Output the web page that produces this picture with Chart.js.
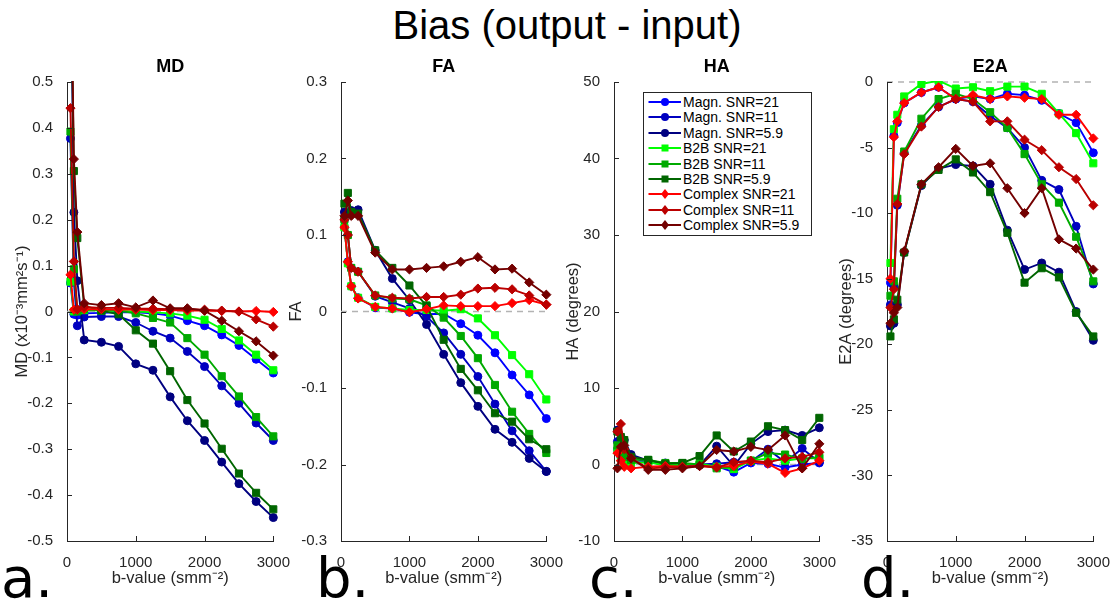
<!DOCTYPE html>
<html>
<head>
<meta charset="utf-8">
<script src="https://cdn.jsdelivr.net/npm/chart.js@4.4.1/dist/chart.umd.min.js"></script>
<style>
html,body{margin:0;padding:0;background:#fff;}
body{width:1120px;height:601px;position:relative;overflow:hidden;font-family:"Liberation Sans",Arial,sans-serif;color:#000;}
canvas{position:absolute;top:50px;}
#mainTitle{position:absolute;left:14px;top:3px;width:1106px;text-align:center;font-size:40px;line-height:44px;}
.plabel{position:absolute;top:550px;font-family:"DejaVu Sans",sans-serif;font-size:56px;line-height:56px;}
#legend{position:absolute;left:643px;top:92px;width:169px;height:144px;border:1px solid #262626;background:#fff;box-sizing:border-box;}
.lrow{position:absolute;left:0;height:16px;line-height:16px;font-size:14px;white-space:nowrap;}
.lrow svg{position:absolute;left:4px;top:0;}
.lrow span{position:absolute;left:39px;top:0;}
</style>
</head>
<body>
<div id="mainTitle">Bias (output - input)</div>
<canvas id="cMD" width="290" height="551" style="left:5px"></canvas>
<canvas id="cFA" width="289" height="551" style="left:279px"></canvas>
<canvas id="cHA" width="289" height="551" style="left:552px"></canvas>
<canvas id="cE2A" width="290" height="551" style="left:825px"></canvas>
<div class="plabel" style="left:1px">a.</div>
<div class="plabel" style="left:316px">b.</div>
<div class="plabel" style="left:589px">c.</div>
<div class="plabel" style="left:861px">d.</div>
<div id="legend"></div>
<script>
// ---------- data ----------
const bValues = [50,100,150,250,500,750,1000,1250,1500,1750,2000,2250,2500,2750,3000];
const seriesNames = ['Magn. SNR=21','Magn. SNR=11','Magn. SNR=5.9','B2B SNR=21','B2B SNR=11','B2B SNR=5.9','Complex SNR=21','Complex SNR=11','Complex SNR=5.9'];
const seriesColors = ['#0000FF','#0000C0','#000080','#00FF00','#00AA00','#006600','#FF0000','#BB0000','#730000'];
const seriesMarkers = ['circle','circle','circle','rect','rect','rect','rectRot','rectRot','rectRot'];

const xTicks = [0,1000,2000,3000];
const mdTicks = [-0.5,-0.4,-0.3,-0.2,-0.1,0,0.1,0.2,0.3,0.4,0.5];
const faTicks = [-0.3,-0.2,-0.1,0,0.1,0.2,0.3];
const haTicks = [-10,0,10,20,30,40,50];
const e2aTicks = [-35,-30,-25,-20,-15,-10,-5,0];

// MD bias (x10^-3 mm^2/s)
const mdMagn21 = [0.062,-0.006,-0.008,-0.004,-0.003,-0.002,-0.002,-0.004,-0.009,-0.02,-0.031,-0.051,-0.074,-0.104,-0.134];
const mdMagn11 = [0.377,0.065,-0.031,-0.012,-0.011,-0.011,-0.024,-0.043,-0.058,-0.087,-0.12,-0.162,-0.2,-0.243,-0.281];
const mdMagn59 = [0.80,0.216,0.067,-0.062,-0.067,-0.076,-0.114,-0.128,-0.186,-0.238,-0.281,-0.328,-0.375,-0.414,-0.449];
const mdB2B21 = [0.065,0.0,0.002,0.003,0.002,0.001,0.0,-0.002,-0.004,-0.009,-0.018,-0.038,-0.063,-0.094,-0.128];
const mdB2B11 = [0.392,0.092,0.0,0.005,0.003,0.002,-0.004,-0.014,-0.024,-0.058,-0.094,-0.141,-0.185,-0.23,-0.272];
const mdB2B59 = [0.82,0.306,0.16,0.012,0.002,-0.006,-0.041,-0.07,-0.13,-0.193,-0.244,-0.299,-0.353,-0.395,-0.431];
const mdCplx21 = [0.08,0.004,0.004,0.005,0.005,0.004,0.004,0.003,0.003,0.002,0.002,0.001,0.0,0.001,-0.001];
const mdCplx11 = [0.443,0.109,0.005,0.01,0.008,0.008,0.006,0.006,0.005,0.005,0.004,0.002,0.0,-0.017,-0.033];
const mdCplx59 = [0.85,0.332,0.173,0.018,0.014,0.018,0.009,0.024,0.007,0.007,0.002,-0.02,-0.043,-0.065,-0.096];

// FA bias
const faMagn21 = [0.11,0.065,0.033,0.018,0.005,0.004,-0.001,-0.0035,-0.003,-0.016,-0.031,-0.054,-0.083,-0.109,-0.14];
const faMagn11 = [0.12,0.10,0.057,0.052,0.02,0.012,0.004,-0.0065,-0.028,-0.056,-0.085,-0.121,-0.156,-0.182,-0.209];
const faMagn59 = [0.13,0.128,0.132,0.133,0.08,0.043,0.015,-0.017,-0.056,-0.093,-0.124,-0.154,-0.171,-0.192,-0.209];
const faB2B21 = [0.11,0.063,0.033,0.018,0.006,0.004,0.002,0.002,0.001,0.003,-0.009,-0.031,-0.057,-0.082,-0.115];
const faB2B11 = [0.12,0.10,0.057,0.052,0.021,0.017,0.016,0.008,-0.008,-0.032,-0.061,-0.096,-0.131,-0.16,-0.185];
const faB2B59 = [0.141,0.155,0.13,0.128,0.08,0.057,0.034,0.007,-0.037,-0.075,-0.103,-0.133,-0.144,-0.167,-0.18];
const faCplx21 = [0.11,0.065,0.033,0.017,0.006,0.004,-0.001,0.003,0.008,0.007,0.007,0.007,0.011,0.015,0.009];
const faCplx11 = [0.12,0.10,0.057,0.052,0.021,0.018,0.017,0.019,0.019,0.022,0.03,0.031,0.029,0.021,0.009];
const faCplx59 = [0.125,0.145,0.125,0.125,0.077,0.055,0.055,0.057,0.059,0.065,0.071,0.055,0.056,0.038,0.022];

// HA bias (degrees)
const haMagn21 = [2.0,1.0,0.5,0.3,0.3,0.0,0.0,-0.1,-0.2,-1.0,0.2,0.1,-0.4,0.0,0.2];
const haMagn11 = [3.0,2.4,1.4,0.8,0.4,0.2,0.0,0.0,0.1,0.3,0.4,2.0,0.3,2.1,0.3];
const haMagn59 = [4.5,3.4,3.2,1.3,0.5,-0.2,-0.1,-0.1,2.4,-0.2,2.7,4.3,4.5,3.8,4.8];
const haB2B21 = [1.8,0.8,0.3,0.2,0.3,-0.1,0.0,0.1,-0.3,-0.6,0.5,0.8,0.5,0.8,0.8];
const haB2B11 = [2.5,2.0,1.0,0.6,0.6,0.2,0.2,0.0,-0.5,-0.3,0.5,1.5,1.3,0.7,1.0];
const haB2B59 = [4.3,3.6,3.2,1.0,0.6,0.1,0.2,1.1,3.8,1.7,3.0,5.0,4.5,3.2,6.1];
const haCplx21 = [1.5,0.5,-0.3,-0.5,-0.3,-0.2,-0.3,-0.2,-0.3,-0.2,0.4,0.1,-1.1,-0.5,0.5];
const haCplx11 = [4.3,5.3,2.0,0.8,-0.5,-0.4,-0.4,-0.2,-0.4,0.3,0.5,0.3,0.8,1.0,1.6];
const haCplx59 = [-0.5,2.3,2.5,0.8,-0.7,-0.7,-0.5,-0.2,1.9,1.7,2.3,1.9,3.8,-0.5,2.7];

// E2A bias (degrees)
const e2aMagn21 = [-15.3,-4.1,-3.1,-1.6,-0.8,-0.4,-1.3,-1.1,-1.3,-0.9,-1.0,-1.4,-2.4,-3.1,-5.4];
const e2aMagn11 = [-17.0,-15.6,-9.4,-5.4,-3.3,-1.9,-1.3,-1.5,-2.6,-3.5,-5.0,-7.5,-8.2,-11.0,-15.4];
const e2aMagn59 = [-18.6,-18.4,-17.0,-13.0,-7.9,-6.6,-6.3,-6.4,-7.8,-11.3,-14.3,-13.8,-14.5,-17.5,-19.7];
const e2aB2B21 = [-13.8,-3.6,-2.5,-1.1,-0.15,0.1,-0.5,-0.4,-0.7,-0.35,-0.35,-0.9,-2.4,-3.9,-6.2];
const e2aB2B11 = [-16.3,-15.2,-8.9,-5.3,-2.8,-1.3,-0.9,-1.3,-2.3,-3.5,-5.5,-7.8,-9.2,-11.8,-15.2];
const e2aB2B59 = [-19.4,-18.1,-16.6,-13.0,-7.8,-6.7,-5.9,-6.9,-8.4,-11.5,-15.3,-14.2,-14.9,-17.6,-19.4];
const e2aCplx21 = [-15.0,-4.2,-3.0,-1.6,-0.8,-0.4,-1.3,-1.0,-1.3,-1.1,-1.2,-1.3,-2.5,-2.5,-4.3];
const e2aCplx11 = [-17.2,-15.8,-9.3,-5.5,-3.4,-1.9,-1.3,-1.5,-3.0,-3.0,-4.4,-5.2,-6.5,-7.4,-9.4];
const e2aCplx59 = [-18.4,-17.6,-17.2,-12.9,-7.8,-6.5,-5.1,-6.4,-6.2,-8.1,-10.0,-8.1,-12.0,-12.7,-14.3];

// ---------- drawing ----------
const FONT = '"Liberation Sans", Arial, sans-serif';
const INK = '#262626';

const axisDeco = {
  id: 'axisDeco',
  beforeDatasetsDraw(chart) {
    const {ctx, chartArea: a, scales: {y}} = chart;
    const y0 = y.getPixelForValue(0);
    ctx.save();
    ctx.strokeStyle = '#b3b3b3';
    ctx.lineWidth = 1.5;
    ctx.setLineDash([6, 5]);
    ctx.beginPath();
    ctx.moveTo(a.left, y0);
    ctx.lineTo(a.right, y0);
    ctx.stroke();
    ctx.restore();
  },
  afterDraw(chart) {
    const {ctx, chartArea: a, scales: {x, y}} = chart;
    ctx.save();
    ctx.strokeStyle = INK;
    ctx.lineWidth = 1;
    ctx.beginPath();
    y.ticks.forEach(t => {
      const py = Math.round(y.getPixelForValue(t.value)) + 0.5;
      ctx.moveTo(a.left, py); ctx.lineTo(a.left + 5, py);
    });
    x.ticks.forEach(t => {
      const px = Math.round(x.getPixelForValue(t.value)) + 0.5;
      ctx.moveTo(px, a.bottom); ctx.lineTo(px, a.bottom - 5);
    });
    ctx.stroke();
    ctx.restore();
  }
};

function makeDatasets(arrs) {
  return arrs.map((vals, i) => ({
    label: seriesNames[i],
    data: bValues.map((b, k) => ({x: b, y: vals[k]})),
    borderColor: seriesColors[i],
    backgroundColor: seriesColors[i],
    pointBackgroundColor: seriesColors[i],
    pointBorderColor: seriesColors[i],
    pointStyle: seriesMarkers[i],
    pointRadius: seriesMarkers[i] === 'circle' ? 4 : (seriesMarkers[i] === 'rect' ? 5 : 4.6),
    pointBorderWidth: 1,
    borderWidth: 1.9,
    tension: 0,
    order: 9 - i,
    clip: {left: 8, right: 8, top: 1, bottom: 8}
  }));
}

function fmt(v) {
  const r = Math.round(v * 10) / 10;
  return String(r);
}

function makePanel(id, title, yTitle, yTicks, yTitlePad, arrs) {
  const yMin = yTicks[0], yMax = yTicks[yTicks.length - 1];
  return new Chart(document.getElementById(id), {
    type: 'line',
    data: {datasets: makeDatasets(arrs)},
    options: {
      responsive: false,
      animation: false,
      devicePixelRatio: 1,
      layout: {padding: {left: 0, right: 20, top: 0, bottom: 0}},
      plugins: {
        legend: {display: false},
        tooltip: {enabled: false},
        title: {display: true, fullSize: false, text: title, color: '#000',
          font: {family: FONT, size: 18, weight: 'bold'},
          padding: {top: 6, bottom: 4.4}}
      },
      scales: {
        x: {
          type: 'linear', min: 0, max: 3000,
          afterBuildTicks: s => { s.ticks = xTicks.map(v => ({value: v})); },
          afterFit: s => { s.height = 60; },
          ticks: {font: {family: FONT, size: 15}, color: INK, padding: 5, maxRotation: 0, autoSkip: false,
            callback: v => String(v)},
          grid: {display: false},
          border: {display: true, color: INK, width: 1},
          title: {display: true, text: 'b-value (smm⁻²)', color: INK,
            font: {family: FONT, size: 16.5}, padding: {top: 0, bottom: 13.1}}
        },
        y: {
          type: 'linear', min: yMin, max: yMax,
          afterBuildTicks: s => { s.ticks = yTicks.map(v => ({value: v})); },
          afterFit: s => { s.width = 62; },
          ticks: {font: {family: FONT, size: 15}, color: INK, padding: 6, autoSkip: false, callback: v => fmt(v)},
          grid: {display: false},
          border: {display: true, color: INK, width: 1},
          title: {display: true, text: yTitle, color: INK,
            font: {family: FONT, size: 16.5}, padding: {top: yTitlePad, bottom: 0}}
        }
      }
    },
    plugins: [axisDeco]
  });
}

makePanel('cMD', 'MD', 'MD (x10⁻³mm²s⁻¹)', mdTicks, 7.1,
  [mdMagn21, mdMagn11, mdMagn59, mdB2B21, mdB2B11, mdB2B59, mdCplx21, mdCplx11, mdCplx59]);
makePanel('cFA', 'FA', 'FA', faTicks, 7.1,
  [faMagn21, faMagn11, faMagn59, faB2B21, faB2B11, faB2B59, faCplx21, faCplx11, faCplx59]);
makePanel('cHA', 'HA', 'HA (degrees)', haTicks, 11.1,
  [haMagn21, haMagn11, haMagn59, haB2B21, haB2B11, haB2B59, haCplx21, haCplx11, haCplx59]);
makePanel('cE2A', 'E2A', 'E2A (degrees)', e2aTicks, 11.1,
  [e2aMagn21, e2aMagn11, e2aMagn59, e2aB2B21, e2aB2B11, e2aB2B59, e2aCplx21, e2aCplx11, e2aCplx59]);

// ---------- legend (HA panel) ----------
const legend = document.getElementById('legend');
seriesNames.forEach((name, i) => {
  const row = document.createElement('div');
  row.className = 'lrow';
  row.style.top = (1 + i * 15.4) + 'px';
  const c = seriesColors[i];
  let marker;
  if (seriesMarkers[i] === 'circle') marker = `<circle cx="17" cy="8" r="4" fill="${c}"/>`;
  else if (seriesMarkers[i] === 'rect') marker = `<rect x="13.5" y="4.5" width="7" height="7" fill="${c}"/>`;
  else marker = `<polygon points="17,3 21,8 17,13 13,8" fill="${c}"/>`;
  row.innerHTML = `<svg width="34" height="16"><line x1="0.5" y1="8" x2="33" y2="8" stroke="${c}" stroke-width="1.8"/>${marker}</svg><span>${name}</span>`;
  legend.appendChild(row);
});
</script>
</body>
</html>
